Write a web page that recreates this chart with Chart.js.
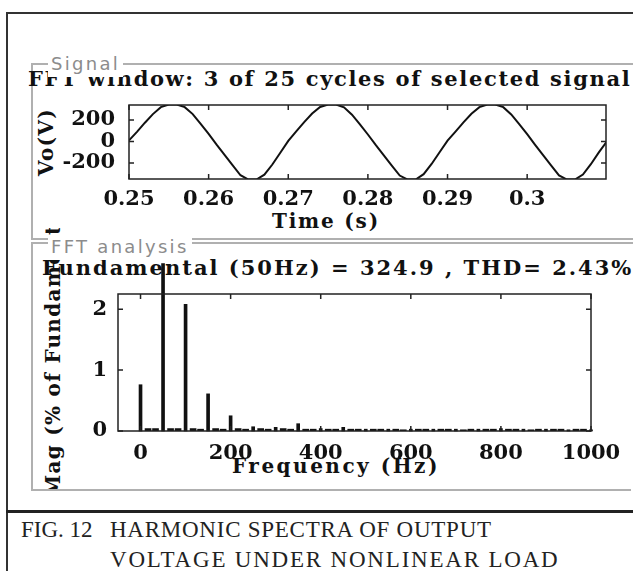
<!DOCTYPE html>
<html>
<head>
<meta charset="utf-8">
<script src="https://cdn.jsdelivr.net/npm/chart.js@4.4.0/dist/chart.umd.min.js"></script>
<style>
body { margin: 0; background: #fff; }
#page { position: relative; width: 633px; height: 571px; overflow: hidden; background: #fff; color: #111; }
.frame { position: absolute; background: #333; }
.etch { position: absolute; background: #b0b0b0; }
.title { position: absolute; font: bold 21px 'DejaVu Serif'; letter-spacing: 2px; white-space: nowrap; line-height: 1; }
.xlab { position: absolute; font: bold 20px 'DejaVu Serif'; letter-spacing: 2.5px; white-space: nowrap; line-height: 1; }
.ylab { position: absolute; font: bold 20px 'DejaVu Serif'; letter-spacing: 1.3px; white-space: nowrap; line-height: 1;
        transform: rotate(-90deg); transform-origin: 0 0; }
.panel-label { position: absolute; font: 18px 'DejaVu Sans'; color: #8c8c8c; background: #fff; line-height: 1;
               letter-spacing: 2.3px; padding: 2px 3px 4px 3px; white-space: nowrap; }
.caption { position: absolute; font: 23px 'Liberation Serif'; color: #222; white-space: nowrap; line-height: 1; }
canvas { position: absolute; }
</style>
</head>
<body>
<div id="page">
  <!-- figure frame -->
  <div class="frame" style="left:6px; top:12px; width:627px; height:2px;"></div>
  <div class="frame" style="left:6px; top:12px; width:2px; height:559px;"></div>
  <div class="frame" style="left:6px; top:510px; width:627px; height:3px; background:#222;"></div>

  <!-- panels -->
  <div class="etch" style="left:31px; top:63px; width:602px; height:2px;"></div>
  <div class="etch" style="left:31px; top:63px; width:2px; height:177px;"></div>
  <div class="etch" style="left:31px; top:238px; width:602px; height:2px;"></div>
  <div class="etch" style="left:31px; top:242px; width:602px; height:2px;"></div>
  <div class="etch" style="left:31px; top:242px; width:2px; height:249px;"></div>
  <div class="etch" style="left:31px; top:489px; width:600px; height:2px;"></div>

  <div class="title" style="left:28px; top:68px; letter-spacing:1.65px;">FFT window: 3 of 25 cycles of selected signal</div>
  <div class="panel-label" style="left:48px; top:53px;">Signal</div>
  <div class="ylab" style="left:36px; top:176px;">Vo(V)</div>
  <div class="xlab" style="left:272px; top:211px; letter-spacing:1.8px;">Time (s)</div>

  <div style="position:absolute; left:0; top:228px; width:633px; height:261px; overflow:hidden;">
    <div class="ylab" style="left:43px; top:269px;">Mag (% of Fundamental)</div>
  </div>
  <div class="title" style="left:42px; top:257px;">Fundamental (50Hz) = 324.9 , THD= 2.43%</div>
  <div class="panel-label" style="left:48px; top:236px;">FFT analysis</div>
  <div class="xlab" style="left:232px; top:456px;">Frequency (Hz)</div>

  <canvas id="signalChart" width="573" height="130" style="left:60px; top:95px;"></canvas>
  <canvas id="fftChart" width="573" height="240" style="left:60px; top:250px;"></canvas>

  <div class="caption" style="left:21px; top:518px;">FIG. 12</div>
  <div class="caption" style="left:110px; top:518px; letter-spacing:0.75px;">HARMONIC SPECTRA OF OUTPUT</div>
  <div class="caption" style="left:110px; top:548px; letter-spacing:1.8px;">VOLTAGE UNDER NONLINEAR LOAD</div>
</div>

<script>
// Signal window: output voltage, one sample per ms (3 cycles of 50 Hz)
const timeSec = [
  0.250, 0.251, 0.252, 0.253, 0.254, 0.255, 0.256, 0.257, 0.258, 0.259,
  0.260, 0.261, 0.262, 0.263, 0.264, 0.265, 0.266, 0.267, 0.268, 0.269,
  0.270, 0.271, 0.272, 0.273, 0.274, 0.275, 0.276, 0.277, 0.278, 0.279,
  0.280, 0.281, 0.282, 0.283, 0.284, 0.285, 0.286, 0.287, 0.288, 0.289,
  0.290, 0.291, 0.292, 0.293, 0.294, 0.295, 0.296, 0.297, 0.298, 0.299,
  0.300, 0.301, 0.302, 0.303, 0.304, 0.305, 0.306, 0.307, 0.308, 0.309,
  0.310
];
const voltage = [
  10, 90, 175, 255, 320, 345, 345, 320, 255, 165,
  70, -30, -125, -220, -315, -355, -355, -310, -215, -105,
  5, 95, 180, 260, 322, 345, 345, 318, 250, 160,
  65, -35, -130, -225, -318, -355, -355, -305, -210, -100,
  8, 92, 178, 258, 320, 345, 345, 320, 252, 162,
  68, -32, -128, -222, -316, -355, -355, -308, -212, -102,
  0
];
const timeTicks = [0.25, 0.26, 0.27, 0.28, 0.29, 0.3];
const timeLabels = ['0.25', '0.26', '0.27', '0.28', '0.29', '0.3'];
const voltTicks = [-200, 0, 200];
const voltLabels = ['-200', '0', '200'];

// FFT bins (Hz) and magnitude (% of fundamental), 50/3 Hz resolution
const binFreqs = [
  0, 16.7, 33.3, 50, 66.7, 83.3, 100, 116.7, 133.3, 150,
  166.7, 183.3, 200, 216.7, 233.3, 250, 266.7, 283.3, 300, 316.7,
  333.3, 350, 366.7, 383.3, 400, 416.7, 433.3, 450, 466.7, 483.3,
  500, 516.7, 533.3, 550, 566.7, 583.3, 600, 616.7, 633.3, 650,
  666.7, 683.3, 700, 716.7, 733.3, 750, 766.7, 783.3, 800, 816.7,
  833.3, 850, 866.7, 883.3, 900, 916.7, 933.3, 950, 966.7, 983.3,
  1000
];
const magnitude = [
  0.76, 0.04, 0.04, 2.75, 0.04, 0.04, 2.08, 0.04, 0.03, 0.61,
  0.04, 0.03, 0.25, 0.04, 0.03, 0.07, 0.04, 0.03, 0.06, 0.04,
  0.03, 0.12, 0.03, 0.03, 0.04, 0.03, 0.03, 0.06, 0.03, 0.03,
  0.03, 0.03, 0.03, 0.03, 0.03, 0.02, 0.03, 0.03, 0.03, 0.03,
  0.03, 0.03, 0.03, 0.02, 0.03, 0.03, 0.03, 0.03, 0.04, 0.03,
  0.03, 0.03, 0.02, 0.03, 0.03, 0.03, 0.03, 0.02, 0.03, 0.03,
  0.02
];
const freqTicks = [0, 200, 400, 600, 800, 1000];
const magTicks = [0, 1, 2];

const tickFont = { family: 'DejaVu Serif', size: 21, weight: 'bold' };

// MATLAB style box with inward tick marks on all four sides
const boxTicks = {
  id: 'boxTicks',
  afterDatasetsDraw(chart) {
    const { ctx, chartArea: a, scales } = chart;
    ctx.save();
    ctx.strokeStyle = '#222';
    ctx.lineWidth = 1.5;
    ctx.strokeRect(a.left, a.top, a.width, a.height);
    ctx.beginPath();
    scales.x.ticks.forEach(t => {
      const px = scales.x.getPixelForValue(t.value);
      ctx.moveTo(px, a.bottom); ctx.lineTo(px, a.bottom - 5);
      ctx.moveTo(px, a.top); ctx.lineTo(px, a.top + 5);
    });
    scales.y.ticks.forEach(t => {
      const py = scales.y.getPixelForValue(t.value);
      ctx.moveTo(a.left, py); ctx.lineTo(a.left + 5, py);
      ctx.moveTo(a.right, py); ctx.lineTo(a.right - 5, py);
    });
    ctx.stroke();
    ctx.restore();
  }
};

function axisOpts(min, max, tickValues, labels, padding, fitKey, fitSize) {
  return {
    type: 'linear', min, max, offset: false,
    afterBuildTicks: axis => { axis.ticks = tickValues.map(v => ({ value: v })); },
    afterFit: axis => {
      axis[fitKey] = fitSize;
      // keep the plot box where the layout padding puts it
      axis.paddingTop = 0; axis.paddingBottom = 0;
      axis.paddingLeft = 0; axis.paddingRight = 0;
    },
    ticks: {
      font: tickFont, color: '#111', padding, autoSkip: false, maxRotation: 0,
      callback: (v, i) => labels[i]
    },
    grid: { display: false, drawTicks: false },
    border: { display: false }
  };
}

new Chart(document.getElementById('signalChart'), {
  type: 'line',
  data: {
    datasets: [{
      data: timeSec.map((t, i) => ({ x: t, y: voltage[i] })),
      borderColor: '#111',
      borderWidth: 2,
      pointRadius: 0,
      tension: 0
    }]
  },
  options: {
    responsive: false,
    animation: false,
    layout: { padding: { top: 10, right: 27, left: 0, bottom: 0 } },
    plugins: { legend: { display: false }, tooltip: { enabled: false } },
    scales: {
      x: axisOpts(0.25, 0.3099, timeTicks, timeLabels, 8, 'height', 46),
      y: axisOpts(-350, 340, voltTicks, voltLabels, 14, 'width', 69)
    }
  },
  plugins: [boxTicks]
});

const harmonicPts = [];
const otherPts = [];
binFreqs.forEach((f, i) => {
  (i % 3 === 0 ? harmonicPts : otherPts).push({ x: f, y: magnitude[i] });
});

new Chart(document.getElementById('fftChart'), {
  type: 'bar',
  data: {
    datasets: [
      { data: otherPts, backgroundColor: '#111', barThickness: 6, grouped: false },
      { data: harmonicPts, backgroundColor: '#111', barThickness: 3, grouped: false, clip: false }
    ]
  },
  options: {
    responsive: false,
    animation: false,
    layout: { padding: { top: 44, right: 42, left: 0, bottom: 0 } },
    plugins: { legend: { display: false }, tooltip: { enabled: false } },
    scales: {
      x: axisOpts(-50, 1000, freqTicks, freqTicks.map(String), 10, 'height', 59),
      y: axisOpts(0, 2.25, magTicks, magTicks.map(String), 11, 'width', 58)
    }
  },
  plugins: [boxTicks]
});
</script>
</body>
</html>
